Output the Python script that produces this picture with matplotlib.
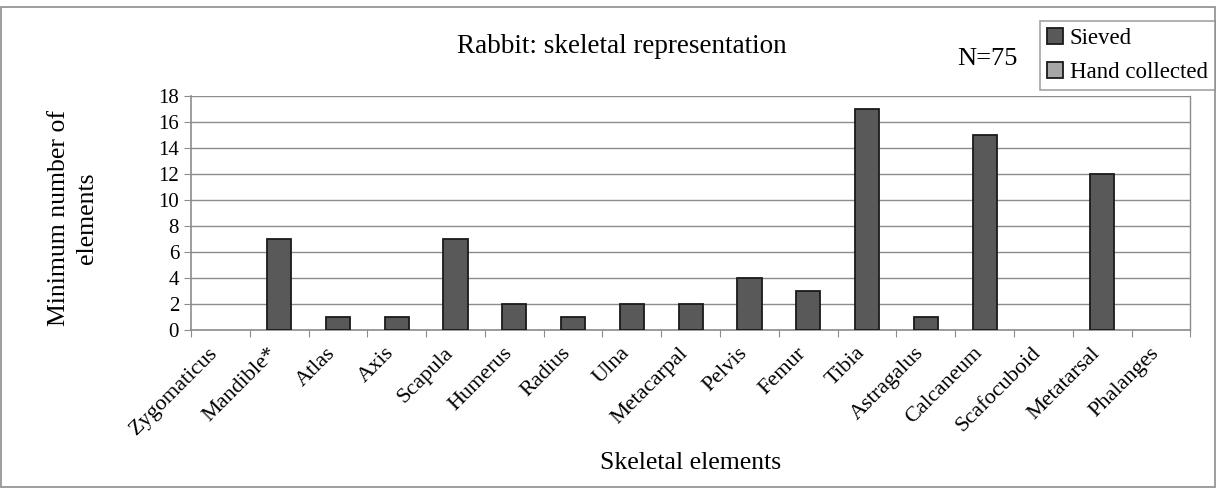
import numpy as np
import matplotlib.pyplot as plt
from matplotlib.patches import Rectangle, Patch

plt.rcParams['font.family'] = ['Liberation Serif', 'DejaVu Serif']

elements = ["Zygomaticus", "Mandible*", "Atlas", "Axis", "Scapula", "Humerus",
            "Radius", "Ulna", "Metacarpal", "Pelvis", "Femur", "Tibia",
            "Astragalus", "Calcaneum", "Scafocuboid", "Metatarsal", "Phalanges"]
sieved = [0, 7, 1, 1, 7, 2, 1, 2, 2, 4, 3, 17, 1, 15, 0, 12, 0]
hand_collected = [0] * len(elements)

sieved_color = "#595959"
hand_color = "#a6a6a6"
edge = "#1a1a1a"

fig = plt.figure(figsize=(12.16, 4.88), dpi=100)
ax = fig.add_axes([0.157, 0.324, 0.822, 0.479])

x = np.arange(len(elements))
# zero-height bars are not drawn in the original, so give them no outline
lw_s = [1.3 if v > 0 else 0 for v in sieved]
lw_h = [1.3 if v > 0 else 0 for v in hand_collected]
ax.bar(x, sieved, width=0.41, color=sieved_color, edgecolor=edge,
       linewidth=lw_s, zorder=3)
ax.bar(x, hand_collected, width=0.41, color=hand_color, edgecolor=edge,
       linewidth=lw_h, zorder=2)

ax.set_xlim(-0.5, len(elements) - 0.5)
ax.set_ylim(0, 18)
ax.set_yticks(range(0, 19, 2))
ax.yaxis.grid(True, color="#8c8c8c", linewidth=1)
ax.set_axisbelow(True)

# category boundaries get the tick marks, labels sit a bit left of centre
ax.set_xticks(np.arange(-0.5, len(elements), 1), minor=False)
ax.set_xticklabels([])
ax.set_xticks(x - 0.2, minor=True)
ax.set_xticklabels(elements, minor=True, rotation=45, ha="right",
                   rotation_mode="anchor", fontsize=16)
ax.tick_params(axis="x", which="minor", length=0, pad=10)
ax.tick_params(axis="x", which="major", length=5, color="#8c8c8c", direction="out")
ax.tick_params(axis="y", labelsize=15, length=5, color="#8c8c8c")

for s in ["top", "right"]:
    ax.spines[s].set_visible(False)
ax.spines["left"].set_color("#8c8c8c")
ax.spines["bottom"].set_color("#8c8c8c")
ax.spines["left"].set_linewidth(1.2)
ax.spines["bottom"].set_linewidth(1.2)
ax.plot([1, 1], [0, 1], transform=ax.transAxes, color="#8c8c8c", lw=1, clip_on=False)

fig.text(0.060, 0.553, "Minimum number of\nelements", fontsize=18.5, rotation=90,
         ha="center", va="center", multialignment="center", linespacing=1.35)
fig.text(0.568, 0.051, "Skeletal elements", fontsize=18.5, ha="center", va="center")
fig.text(0.5115, 0.904, "Rabbit: skeletal representation", fontsize=19.5, ha="center", va="center")
fig.text(0.8117, 0.879, "N=75", fontsize=19, ha="center", va="center")

handles = [Patch(facecolor=sieved_color, edgecolor=edge, linewidth=1.3, label="Sieved"),
           Patch(facecolor=hand_color, edgecolor=edge, linewidth=1.3, label="Hand collected")]
leg = fig.legend(handles=handles, loc="upper right", bbox_to_anchor=(0.999, 0.957),
                 fontsize=16.5, frameon=True, fancybox=False, edgecolor="#8c8c8c",
                 handlelength=0.72, handleheight=0.72, handletextpad=0.3,
                 labelspacing=0.55, borderpad=0.3, borderaxespad=0)
leg.get_frame().set_linewidth(1.2)

fig.patches.append(Rectangle((0.001, 0.002), 0.998, 0.984, transform=fig.transFigure,
                             fill=False, edgecolor="#8c8c8c", linewidth=1.2))

fig.savefig("out.png", dpi=100)
